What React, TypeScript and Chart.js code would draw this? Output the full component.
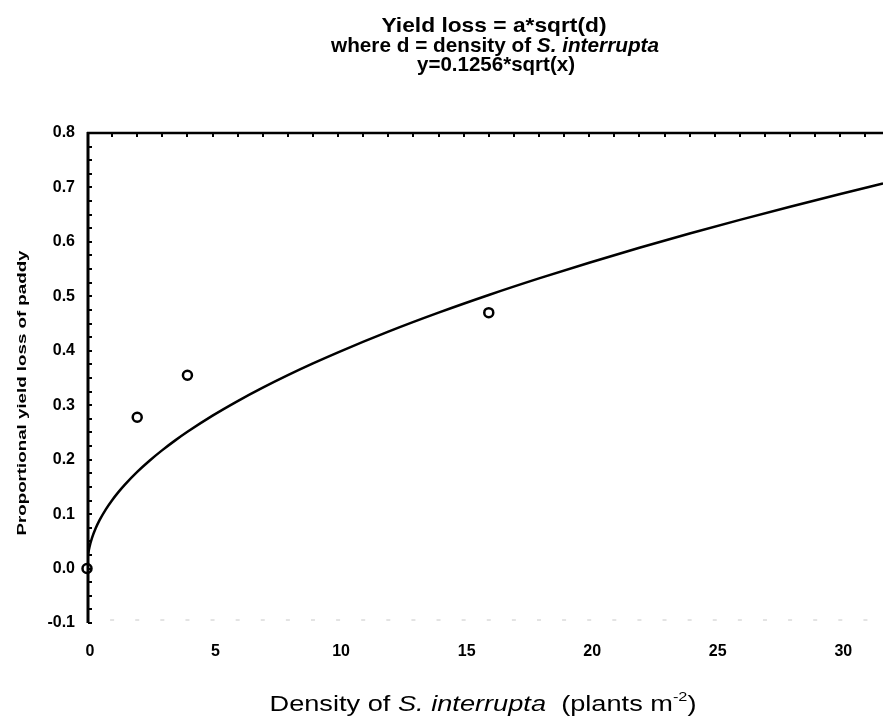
import { useEffect, useRef } from "react";
import { Chart, registerables } from "chart.js";

Chart.register(...registerables);

// Observed yield loss at each weed density (plants per square metre)
const densityObserved = [0, 2, 4, 16];
const yieldLossObserved = [0, 0.278, 0.355, 0.47];

// Fitted model y = a * sqrt(x)
const fitCoefficient = 0.1256;
const fitDensities = [
  0, 0.005, 0.02, 0.05, 0.1, 0.2, 0.35, 0.5, 0.75, 1, 1.25, 1.5, 2, 2.5, 3,
  3.5, 4, 5, 6, 7, 8, 9, 10, 12, 14, 16, 18, 20, 22, 24, 26, 28, 30, 31.7,
];

const xTickValues = [0, 5, 10, 15, 20, 25, 30];
const yTickValues = [-0.1, 0, 0.1, 0.2, 0.3, 0.4, 0.5, 0.6, 0.7, 0.8];

const X_MIN = 0;
const X_MAX = 31.7;
const Y_MIN = -0.1;
const Y_MAX = 0.8;
const Y_MINOR_STEP = 0.025;
const X_MINOR_STEP = 1;

const titleLines = [
  { segments: [{ text: "Yield loss = a*sqrt(d)" }], cx: 494, baseline: 32, width: 225 },
  {
    segments: [{ text: "where d = density of " }, { text: "S. interrupta", italic: true }],
    cx: 495,
    baseline: 52,
    width: 328,
  },
  { segments: [{ text: "y=0.1256*sqrt(x)" }], cx: 496, baseline: 71, width: 158 },
];

const xAxisTitle = [
  { text: "Density of " },
  { text: "S. interrupta", italic: true },
  { text: "  (plants m" },
  { text: "-2", sup: true },
  { text: ")" },
];
const yAxisTitle = "Proportional yield loss of paddy";

const FONT = "Arial, 'Liberation Sans', Helvetica, sans-serif";

type Seg = { text: string; italic?: boolean; sup?: boolean };

function segFont(seg: Seg, size: number, bold: boolean) {
  const s = seg.sup ? Math.round(size * 0.62) : size;
  return `${seg.italic ? "italic " : ""}${bold ? "bold " : ""}${s}px ${FONT}`;
}

function drawFitted(
  ctx: CanvasRenderingContext2D,
  segs: Seg[],
  cx: number,
  baseline: number,
  targetWidth: number,
  size: number,
  bold: boolean,
  sy: number
) {
  let total = 0;
  const widths = segs.map((s) => {
    ctx.font = segFont(s, size, bold);
    const w = ctx.measureText(s.text).width;
    total += w;
    return w;
  });
  const sx = targetWidth / total;
  ctx.save();
  ctx.translate(cx - targetWidth / 2, baseline);
  ctx.scale(sx, sy);
  ctx.fillStyle = "#000";
  ctx.textBaseline = "alphabetic";
  ctx.textAlign = "left";
  let xPos = 0;
  segs.forEach((s, i) => {
    ctx.font = segFont(s, size, bold);
    ctx.fillText(s.text, xPos, s.sup ? -size * 0.45 : 0);
    xPos += widths[i];
  });
  ctx.restore();
}

const framePlugin = {
  id: "frame",
  afterDatasetsDraw(chart: any) {
    const { ctx, chartArea, scales } = chart;
    const { left, top, right, bottom } = chartArea;
    const x = scales.x;
    const y = scales.y;
    ctx.save();
    ctx.lineCap = "butt";

    // faint bottom ticks
    ctx.strokeStyle = "#c8c8c8";
    ctx.lineWidth = 1;
    for (let v = X_MIN + X_MINOR_STEP; v <= X_MAX; v += X_MINOR_STEP) {
      const px = x.getPixelForValue(v);
      ctx.beginPath();
      ctx.moveTo(px - 2, bottom - 3);
      ctx.lineTo(px + 2, bottom - 3);
      ctx.stroke();
    }

    ctx.strokeStyle = "#000";
    // left axis
    ctx.lineWidth = 3;
    ctx.beginPath();
    ctx.moveTo(left + 1, top - 1);
    ctx.lineTo(left + 1, bottom);
    ctx.stroke();
    // top border
    ctx.lineWidth = 2.5;
    ctx.beginPath();
    ctx.moveTo(left, top);
    ctx.lineTo(right, top);
    ctx.stroke();

    // minor ticks on the left axis
    ctx.lineWidth = 2;
    for (let v = Y_MIN; v <= Y_MAX + 1e-9; v += Y_MINOR_STEP) {
      const py = Math.round(y.getPixelForValue(v));
      ctx.beginPath();
      ctx.moveTo(left + 1, py);
      ctx.lineTo(left + 5, py);
      ctx.stroke();
    }
    // ticks along the top border
    for (let v = X_MIN + X_MINOR_STEP; v <= X_MAX; v += X_MINOR_STEP) {
      const px = Math.round(x.getPixelForValue(v));
      ctx.beginPath();
      ctx.moveTo(px, top);
      ctx.lineTo(px, top + 4);
      ctx.stroke();
    }
    ctx.restore();
  },
  afterDraw(chart: any) {
    const { ctx } = chart;
    titleLines.forEach((line) =>
      drawFitted(ctx, line.segments, line.cx, line.baseline, line.width, 16, true, 1.3)
    );
    drawFitted(ctx, xAxisTitle, 483, 711, 427, 20, false, 1.1);

    ctx.save();
    ctx.translate(21, 393);
    ctx.rotate(-Math.PI / 2);
    drawFitted(ctx, [{ text: yAxisTitle }], 0, 5, 285, 13, true, 1.0);
    ctx.restore();
  },
};

export default function App() {
  const canvasRef = useRef<HTMLCanvasElement | null>(null);

  useEffect(() => {
    document.body.style.margin = "0";
    const canvas = canvasRef.current;
    if (!canvas) return;

    const chart = new Chart(canvas, {
      type: "line",
      data: {
        datasets: [
          {
            label: "fit",
            data: fitDensities.map((d) => ({ x: d, y: fitCoefficient * Math.sqrt(d) })),
            borderColor: "#000",
            borderWidth: 2.5,
            pointRadius: 0,
            cubicInterpolationMode: "monotone",
            fill: false,
          },
          {
            label: "observed",
            type: "scatter",
            data: densityObserved.map((d, i) => ({ x: d, y: yieldLossObserved[i] })),
            borderColor: "#000",
            backgroundColor: "#fff",
            borderWidth: 2.5,
            pointRadius: 4.5,
            pointStyle: "circle",
            showLine: false,
            clip: false,
          },
        ] as any,
      },
      options: {
        responsive: false,
        animation: false,
        devicePixelRatio: 1,
        layout: { autoPadding: false, padding: { top: 133, right: 0, left: 0, bottom: 0 } },
        plugins: {
          legend: { display: false },
          tooltip: { enabled: false },
          title: { display: false },
        },
        scales: {
          x: {
            type: "linear",
            min: X_MIN,
            max: X_MAX,
            grid: { display: false },
            border: { display: false },
            afterBuildTicks: (axis: any) => {
              axis.ticks = xTickValues.map((v) => ({ value: v }));
            },
            afterFit: (axis: any) => {
              axis.height = 100;
              axis.paddingLeft = 0;
              axis.paddingRight = 0;
            },
            ticks: {
              color: "#000",
              font: { family: FONT, size: 16, weight: "bold" },
              padding: 11,
              labelOffset: 3,
              maxRotation: 0,
              callback: (v: any) => String(v),
            },
          },
          y: {
            type: "linear",
            min: Y_MIN,
            max: Y_MAX,
            grid: { display: false },
            border: { display: false },
            afterBuildTicks: (axis: any) => {
              axis.ticks = yTickValues.map((v) => ({ value: v }));
            },
            afterFit: (axis: any) => {
              axis.width = 87;
            },
            ticks: {
              color: "#000",
              font: { family: FONT, size: 16, weight: "bold" },
              padding: 4,
              callback: (v: any) => Number(v).toFixed(1),
            },
          },
        },
      } as any,
      plugins: [framePlugin],
    });

    return () => chart.destroy();
  }, []);

  return (
    <div style={{ width: 883, height: 723, background: "#fff" }}>
      <canvas ref={canvasRef} width={883} height={723} style={{ width: 883, height: 723 }} />
    </div>
  );
}
